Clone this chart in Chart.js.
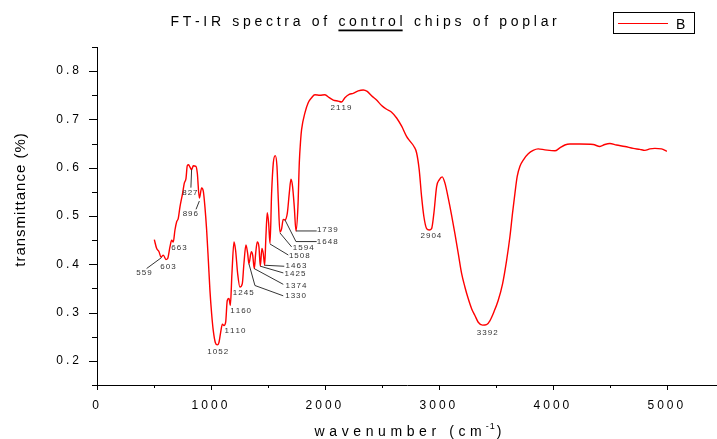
<!DOCTYPE html>
<html>
<head>
<meta charset="utf-8">
<script src="https://cdn.jsdelivr.net/npm/chart.js@4.4.0/dist/chart.umd.min.js"></script>
<style>
  html, body { margin: 0; padding: 0; background: #fff; }
  #wrap { width: 717px; height: 439px; position: relative; }
</style>
</head>
<body>
<div id="wrap"><canvas id="ftirChart"></canvas></div>
<script>
// spectrum
const wavenumber = [
  503, 523, 544, 561, 582, 605, 620, 640, 655, 669, 684, 699, 713, 728, 751, 766, 781, 792, 804, 816,
  830, 845, 868, 880, 898, 918, 933, 947, 962, 977, 991, 1006, 1020, 1038, 1056, 1070, 1085, 1100, 1114, 1129,
  1143, 1158, 1170, 1184, 1202, 1216, 1234, 1254, 1275, 1289, 1307, 1322, 1333, 1354, 1366, 1380, 1392, 1406, 1421, 1433,
  1447, 1459, 1471, 1482, 1494, 1506, 1518, 1532, 1547, 1564, 1579, 1591, 1605, 1620, 1634, 1649, 1670, 1687, 1702, 1716,
  1731, 1746, 1763, 1775, 1787, 1795, 1825, 1854, 1883, 1912, 1956, 2000, 2038, 2073, 2117, 2146, 2175, 2213, 2248, 2292,
  2336, 2371, 2409, 2453, 2497, 2541, 2585, 2629, 2673, 2716, 2746, 2781, 2804, 2827, 2848, 2868, 2892, 2915, 2936, 2956,
  2980, 3003, 3029, 3053, 3082, 3111, 3140, 3170, 3199, 3228, 3257, 3287, 3316, 3345, 3383, 3418, 3447, 3482, 3520, 3559,
  3594, 3623, 3646, 3667, 3687, 3711, 3746, 3784, 3827, 3871, 3930, 4018, 4061, 4105, 4149, 4237, 4354, 4412, 4456, 4500,
  4558, 4632, 4705, 4763, 4807, 4851, 4895, 4953, 5000
];
const transmittance = [
  0.451, 0.433, 0.426, 0.415, 0.419, 0.410, 0.412, 0.436, 0.450, 0.446, 0.471, 0.488, 0.495, 0.519, 0.547, 0.568, 0.578, 0.604, 0.606, 0.601,
  0.596, 0.604, 0.603, 0.589, 0.537, 0.558, 0.551, 0.519, 0.471, 0.408, 0.346, 0.297, 0.263, 0.238, 0.233, 0.238, 0.259, 0.276, 0.273, 0.280,
  0.325, 0.329, 0.315, 0.381, 0.446, 0.429, 0.381, 0.353, 0.360, 0.401, 0.440, 0.422, 0.401, 0.426, 0.419, 0.391, 0.422, 0.446, 0.436, 0.396,
  0.433, 0.422, 0.398, 0.457, 0.507, 0.485, 0.443, 0.547, 0.610, 0.625, 0.603, 0.533, 0.467, 0.474, 0.493, 0.492, 0.506, 0.547, 0.576, 0.561,
  0.519, 0.469, 0.519, 0.610, 0.658, 0.679, 0.714, 0.735, 0.745, 0.751, 0.750, 0.751, 0.745, 0.740, 0.738, 0.736, 0.745, 0.752, 0.754, 0.759,
  0.761, 0.758, 0.749, 0.740, 0.729, 0.721, 0.715, 0.703, 0.686, 0.665, 0.655, 0.644, 0.631, 0.596, 0.540, 0.499, 0.474, 0.471, 0.474, 0.506,
  0.561, 0.575, 0.581, 0.568, 0.537, 0.502, 0.464, 0.422, 0.381, 0.353, 0.329, 0.308, 0.294, 0.280, 0.274, 0.275, 0.283, 0.301, 0.325, 0.360,
  0.408, 0.457, 0.506, 0.547, 0.582, 0.603, 0.618, 0.629, 0.636, 0.639, 0.637, 0.635, 0.641, 0.647, 0.649, 0.649, 0.648, 0.644, 0.648, 0.650,
  0.647, 0.644, 0.640, 0.638, 0.636, 0.639, 0.640, 0.639, 0.634
];

// axis ticks (labels only on the whole thousands / tenths)
const xTicks = [0, 500, 1000, 1500, 2000, 2500, 3000, 3500, 4000, 4500, 5000];
const yTicks = [0.15, 0.2, 0.25, 0.3, 0.35, 0.4, 0.45, 0.5, 0.55, 0.6, 0.65, 0.7, 0.75, 0.8, 0.85];

// peak annotations: text, and the point on the curve it refers to
const peakLabels = ["559", "603", "663", "827", "896", "1052", "1110", "1160", "1245", "1330", "1374",
  "1425", "1463", "1508", "1594", "1648", "1739", "2119", "2904", "3392"];
const peakWn = [567, 605, 663, 830, 898, 1056, 1114, 1170, 1254, 1333, 1380,
  1433, 1471, 1518, 1605, 1649, 1746, 2117, 2915, 3400];
const peakT = [0.414, 0.410, 0.448, 0.596, 0.531, 0.233, 0.273, 0.315, 0.353, 0.401, 0.391,
  0.396, 0.398, 0.442, 0.465, 0.492, 0.469, 0.738, 0.471, 0.274];

// where each label sits relative to its peak (px), and leader line bends
const labelOffset = [[-17.7, 15], [2, 7], [6.4, 7], [-1.7, 22.7], [-9, 13], [0.4, 7], [11, 5], [10.3, 5.3], [3.3, 5.6],
  [46.7, 32], [41.7, 17], [34.7, 7.3], [31.3, 1], [29.3, 12], [23.3, 15], [42.3, 22.3], [31.3, -0.7],
  [2.7, 6.8], [1.7, 5.5], [2.7, 7.2]];
const leaderPath = [[[-15, 11]], null, null, [[-0.7, 18]], [[-3.3, 8.3]], null, null, null, null,
  [[6, 21.7], [34.3, 32]], [[29, 15.7]], [[23, 6.7]], [[19.6, 1]], [[18.3, 11]], [[11.7, 14]],
  [[11, 21.7], [31.7, 21.7]], [[20.7, 0]], null, null, null];

const FONT = '"Liberation Sans", Arial, sans-serif';
const isTenth = (v) => Math.abs(v * 10 - Math.round(v * 10)) < 1e-6;

// draw text one glyph at a time so the wide spacing works everywhere
function spacedWidth(ctx, text, spacing) {
  let w = 0;
  for (const ch of text) w += ctx.measureText(ch).width;
  return w + spacing * (text.length - 1);
}
function drawSpaced(ctx, text, x, y, spacing) {
  for (const ch of text) {
    ctx.fillText(ch, x, y);
    x += ctx.measureText(ch).width + spacing;
  }
  return x - spacing;
}

const spacedTicks = {
  id: "spacedTicks",
  beforeDraw(chart) {
    chart.ctx.letterSpacing = "3px";
  },
};

const tickMarks = {
  id: "tickMarks",
  afterDraw(chart) {
    const { ctx, chartArea } = chart;
    const { x, y } = chart.scales;
    ctx.save();
    ctx.strokeStyle = "#000";
    ctx.lineWidth = 1;
    ctx.beginPath();
    x.ticks.forEach((t) => {
      const px = Math.round(x.getPixelForValue(t.value)) + 0.5;
      const len = t.value % 1000 === 0 ? 5 : 3;
      ctx.moveTo(px, chartArea.bottom);
      ctx.lineTo(px, chartArea.bottom + len);
    });
    y.ticks.forEach((t) => {
      const py = Math.round(y.getPixelForValue(t.value)) + 0.5;
      ctx.moveTo(chartArea.left, py);
      ctx.lineTo(chartArea.left - (isTenth(t.value) ? 8 : 5), py);
    });
    ctx.stroke();
    ctx.restore();
  },
};

const peakNotes = {
  id: "peakNotes",
  afterDatasetsDraw(chart) {
    const { ctx } = chart;
    const { x, y } = chart.scales;
    ctx.save();
    ctx.letterSpacing = "0px";
    ctx.font = "8px " + FONT;
    ctx.textBaseline = "middle";
    ctx.strokeStyle = "#000";
    ctx.fillStyle = "#333";
    ctx.lineWidth = 0.8;
    peakLabels.forEach((txt, i) => {
      const px = x.getPixelForValue(peakWn[i]);
      const py = y.getPixelForValue(peakT[i]);
      if (leaderPath[i]) {
        ctx.beginPath();
        ctx.moveTo(px, py);
        leaderPath[i].forEach(([dx, dy]) => ctx.lineTo(px + dx, py + dy));
        ctx.stroke();
      }
      const [ox, oy] = labelOffset[i];
      const w = spacedWidth(ctx, txt, 1);
      drawSpaced(ctx, txt, px + ox - w / 2, py + oy, 1);
    });
    ctx.restore();
  },
};

const frameText = {
  id: "frameText",
  afterDraw(chart) {
    const { ctx } = chart;
    ctx.save();
    ctx.letterSpacing = "0px";
    ctx.fillStyle = "#000";
    ctx.textBaseline = "alphabetic";

    // title with underlined word
    ctx.font = "14px " + FONT;
    const sp = 3.7;
    let tx = 170.5;
    tx = drawSpaced(ctx, "FT-IR spectra of ", tx, 26, sp) + sp;
    const uStart = tx;
    tx = drawSpaced(ctx, "control", tx, 26, sp);
    const uEnd = tx;
    tx += sp;
    drawSpaced(ctx, " chips of poplar", tx, 26, sp);
    ctx.fillRect(uStart, 29.5, uEnd - uStart, 1.8);

    // legend
    ctx.strokeStyle = "#000";
    ctx.lineWidth = 1;
    ctx.strokeRect(613.5, 12.5, 81, 21);
    ctx.strokeStyle = "#ff0000";
    ctx.beginPath();
    ctx.moveTo(618, 23.5);
    ctx.lineTo(668, 23.5);
    ctx.stroke();
    ctx.font = "14px " + FONT;
    ctx.fillText("B", 676, 29);

    // x axis title
    let ax = 314.6;
    ax = drawSpaced(ctx, "wavenumber (cm", ax, 436, 4.6) + 4;
    ctx.font = "9px " + FONT;
    ax = drawSpaced(ctx, "-1", ax, 429, 1) + 2;
    ctx.font = "14px " + FONT;
    ctx.fillText(")", ax, 436);

    // y axis title
    ctx.font = "15px " + FONT;
    ctx.translate(21, 200);
    ctx.rotate(-Math.PI / 2);
    ctx.textBaseline = "middle";
    const yw = spacedWidth(ctx, "transmittance (%)", 1);
    drawSpaced(ctx, "transmittance (%)", -yw / 2, 0, 1);
    ctx.restore();
  },
};

const points = wavenumber.map((w, i) => ({ x: w, y: transmittance[i] }));

new Chart(document.getElementById("ftirChart"), {
  type: "line",
  data: {
    datasets: [
      {
        label: "B",
        data: points,
        borderColor: "#ff0000",
        borderWidth: 1.4,
        pointRadius: 0,
        fill: false,
        cubicInterpolationMode: "monotone",
      },
    ],
  },
  options: {
    responsive: true,
    maintainAspectRatio: false,
    animation: false,
    layout: { padding: { top: 47, left: 0, right: 0, bottom: 0 } },
    plugins: {
      legend: { display: false },
      title: { display: false },
      tooltip: { enabled: false },
    },
    scales: {
      x: {
        type: "linear",
        min: 0,
        max: 5440,
        afterBuildTicks: (scale) => {
          scale.ticks = xTicks.map((v) => ({ value: v }));
        },
        afterFit: (scale) => {
          scale.height = 54;
        },
        ticks: {
          autoSkip: false,
          maxRotation: 0,
          padding: 5,
          color: "#000",
          font: { family: FONT, size: 12 },
          callback: (v) => (v % 1000 === 0 ? String(v) : ""),
        },
        grid: { display: false },
        border: { display: true, color: "#000", width: 1 },
      },
      y: {
        min: 0.15,
        max: 0.85,
        afterBuildTicks: (scale) => {
          scale.ticks = yTicks.map((v) => ({ value: v }));
        },
        afterFit: (scale) => {
          scale.width = 97;
        },
        ticks: {
          autoSkip: false,
          padding: 7,
          color: "#000",
          font: { family: FONT, size: 12 },
          callback: (v) => (isTenth(v) ? v.toFixed(1) : ""),
        },
        grid: { display: false },
        border: { display: true, color: "#000", width: 1 },
      },
    },
  },
  plugins: [spacedTicks, tickMarks, peakNotes, frameText],
});
</script>
</body>
</html>
